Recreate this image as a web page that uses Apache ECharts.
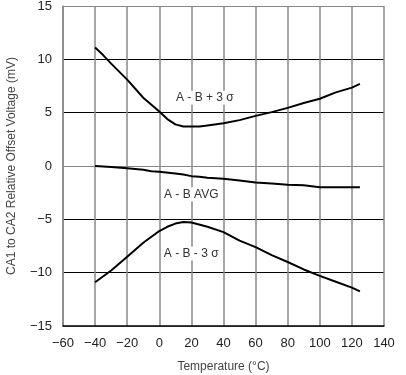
<!DOCTYPE html>
<html><head><meta charset="utf-8">
<script src="https://cdn.jsdelivr.net/npm/echarts@6/dist/echarts.min.js"></script>
<style>html,body{margin:0;padding:0;background:#fff}#c{width:406px;height:375px}</style>
</head><body><div id="c"></div>
<script>
const upperT = [-40,-35,-30,-20,-10,0,5,10,15,20,25,30,40,50,60,70,80,90,100,110,120,125];
const upperV = [11.1,10.4,9.6,8.1,6.4,5.1,4.4,3.9,3.7,3.7,3.7,3.8,4.0,4.3,4.7,5.05,5.45,5.9,6.3,6.9,7.35,7.7];
const avgT = [-40,-30,-20,-10,-5,0,10,15,20,25,30,40,50,60,70,80,90,100,110,125];
const avgV = [0,-0.1,-0.2,-0.35,-0.5,-0.55,-0.7,-0.8,-0.95,-1.0,-1.1,-1.2,-1.35,-1.55,-1.65,-1.75,-1.8,-2.0,-2.0,-2.0];
const lowerT = [-40,-30,-20,-10,0,5,10,15,20,30,40,50,60,70,80,90,100,110,120,125];
const lowerV = [-10.9,-9.8,-8.5,-7.2,-6.1,-5.7,-5.4,-5.25,-5.3,-5.7,-6.2,-7.0,-7.6,-8.35,-9.0,-9.7,-10.3,-10.85,-11.4,-11.75];
const curveLabels = ['A - B + 3 σ','A - B AVG','A - B - 3 σ'];
const labelPos = [[28.4,6.4],[19.9,-2.65],[19.9,-8.2]];
const xTitle = 'Temperature (°C)';
const yTitle = 'CA1 to CA2 Relative Offset Voltage (mV)';

const zip = (a,b)=>a.map((t,i)=>[t,b[i]]);
const fmt = v => String(v).replace('-', '\u2212');
const font = 'Liberation Sans, Arial, sans-serif';
function mk(name, t, v, idx){
  return {
    type:'line', name, data: zip(t,v), symbol:'none', smooth:false,
    lineStyle:{color:'#000', width:2}, z:5,
    markPoint:{
      symbol:'rect', symbolSize:0, silent:true,
      data:[{coord:labelPos[idx], value:curveLabels[idx]}],
      label:{show:true, position:'inside', formatter:curveLabels[idx], color:'#333', fontSize:12, fontFamily:font,
        backgroundColor:'#fff', padding:[1,2]}
    }
  };
}
const chart = echarts.init(document.getElementById('c'), null, {renderer:'canvas'});
chart.setOption({
  animation:false,
  grid:{left:63, top:6, width:321, height:320, containLabel:false, outerBoundsMode:'none'},
  xAxis:{type:'value', min:-60, max:140, interval:20,
    name:xTitle, nameLocation:'middle', nameGap:35, nameTextStyle:{color:'#444', fontSize:12, fontFamily:font},
    axisLine:{show:true, onZero:false, lineStyle:{color:'#000', width:1.5}}, axisTick:{show:false},
    axisLabel:{color:'#222', fontSize:13, fontFamily:font, margin:11, formatter:fmt},
    splitLine:{show:true, showMinLine:true, showMaxLine:true, lineStyle:{color:'#888', width:1.5, type:'solid'}}},
  yAxis:{type:'value', min:-15, max:15, interval:5,
    name:yTitle, nameLocation:'middle', nameGap:45, nameTextStyle:{color:'#444', fontSize:12, fontFamily:font},
    axisLine:{show:true, onZero:false, lineStyle:{color:'#888', width:1.5}}, axisTick:{show:false},
    axisLabel:{color:'#222', fontSize:13, fontFamily:font, margin:11, formatter:fmt},
    splitLine:{show:true, lineStyle:{color:['#888','#000','#000','#888','#000','#000','#888'], width:1.2}}},
  series:[mk('upper',upperT,upperV,0), mk('avg',avgT,avgV,1), mk('lower',lowerT,lowerV,2)]
});
</script></body></html>
